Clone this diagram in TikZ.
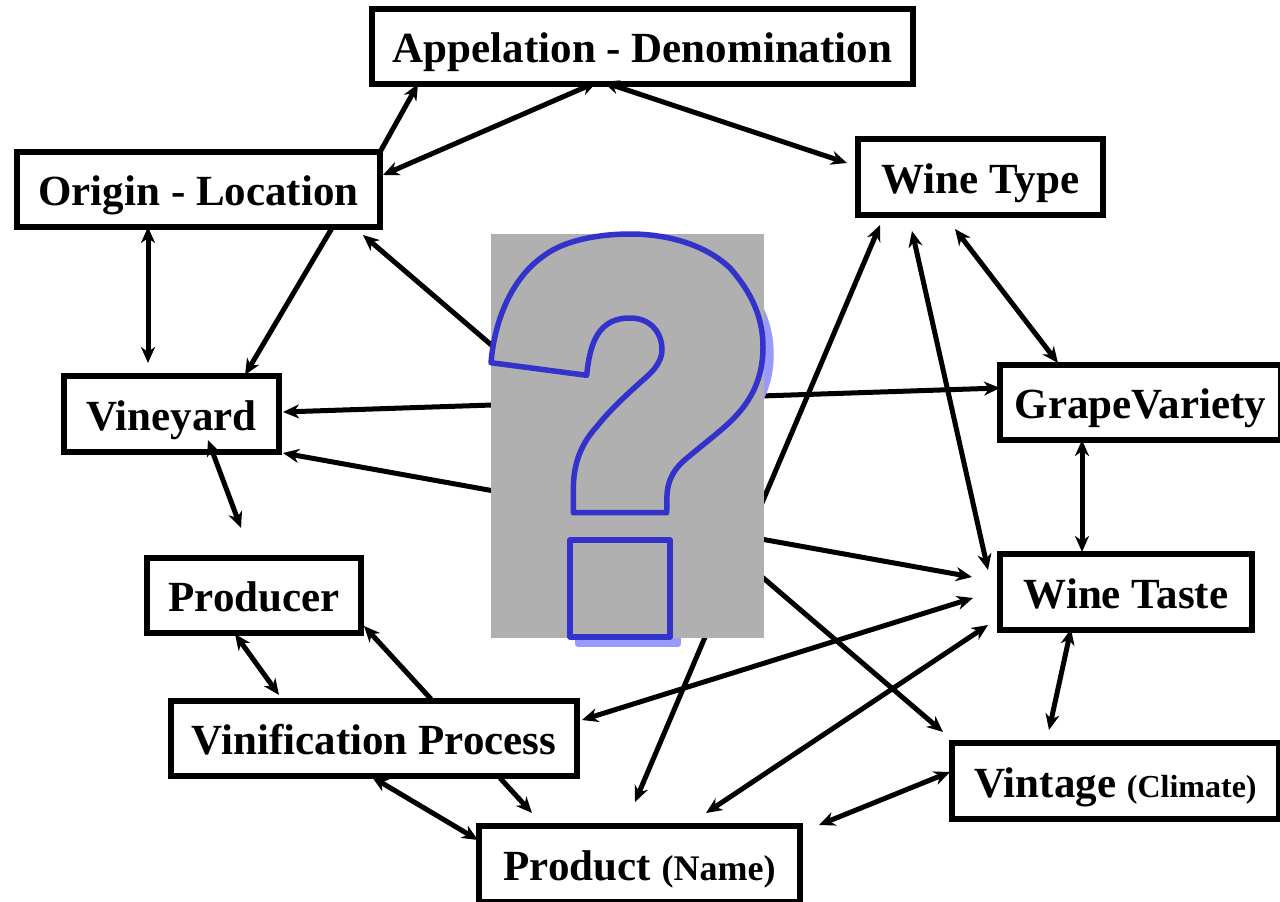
\documentclass[tikz,border=0pt]{standalone}
\usepackage{fontspec}
\setmainfont{Liberation Serif}
\usetikzlibrary{arrows.meta}
\definecolor{qblue}{HTML}{3333CC}
\definecolor{qshade}{HTML}{9999FF}
\definecolor{qgray}{HTML}{B0B0B0}
\newcommand{\qmark}{(491,362.7) -- (586.7,375.3) .. controls (590,340) and (600,318) .. (630,318)
  .. controls (650,318) and (662,332) .. (662,350) .. controls (662,362) and (652,372) .. (646.7,376.7)
  .. controls (625,396) and (610,410) .. (596.7,426.7) .. controls (580,445) and (573.3,465) .. (573.3,490)
  -- (573.3,512.7) -- (666.7,512.7) -- (667,495) .. controls (668,478) and (675,468) .. (687,458)
  .. controls (705,443) and (722,430) .. (732,420) .. controls (750,402) and (763,380) .. (763,347)
  .. controls (763,318) and (752,293) .. (730,268) .. controls (708,247) and (672,234) .. (630,234)
  .. controls (600,234) and (565,240) .. (545,255) .. controls (515,275) and (495,315) .. (491,362.7) -- cycle}
\begin{document}
\begin{tikzpicture}[x=1pt,y=-1pt,
    boxnode/.style={draw=black,line width=5.5pt,inner sep=0pt,outer sep=0pt,align=center,
      text height=36pt,text depth=4pt,font=\fontsize{43}{50}\selectfont\bfseries},
    link/.style={line width=5pt,{Stealth[length=16pt,width=14pt,inset=5pt]}-{Stealth[length=16pt,width=14pt,inset=5pt]}},
    linkto/.style={line width=5pt,-{Stealth[length=16pt,width=14pt,inset=5pt]}}]
  \useasboundingbox (0,0) rectangle (1280,902);
  \node [boxnode,minimum width=541pt,minimum height=75pt] (appel) at (642.5,46.5) {Appelation - Denomination};
  \node [boxnode,minimum width=363pt,minimum height=75pt] (origin) at (198.5,189.5) {Origin - Location};
  \node [boxnode,minimum width=245pt,minimum height=76pt] (winetype) at (980.5,177) {Wine Type};
  \node [boxnode,minimum width=215pt,minimum height=76pt] (vineyard) at (171.5,414) {Vineyard};
  \node [boxnode,minimum width=281pt,minimum height=75pt] (grape) at (1140.5,402.5) {GrapeVariety};
  \node [boxnode,minimum width=252pt,minimum height=76pt] (taste) at (1126,592) {Wine Taste};
  \node [boxnode,minimum width=214pt,minimum height=75pt] (producer) at (254,595.5) {Producer};
  \node [boxnode,minimum width=406pt,minimum height=75pt] (vinif) at (374,738.5) {Vinification Process};
  \node [boxnode,minimum width=327pt,minimum height=76pt] (vintage) at (1115.5,781) {Vintage {\fontsize{32}{38}\selectfont (Climate)}};
  \node [boxnode,minimum width=321pt,minimum height=76pt] (product) at (639.5,864) {Product {\fontsize{36}{42}\selectfont (Name)}};

  \draw [linkto] (origin.north east) -- ([shift={(-224.5,0)}]appel.south);
  \draw [link] ([shift={(3,-14.5)}]origin.east) -- ([shift={(-45.5,-2)}]appel.south);
  \draw [link] ([shift={(-39.5,-2)}]appel.south) -- ([shift={(-11,-14)}]winetype.west);
  \draw [link] ([shift={(-50.5,0)}]origin.south) -- ([shift={(-23.5,-13)}]vineyard.north);
  \draw [linkto] ([shift={(133.5,1)}]origin.south) -- ([shift={(73.5,-1)}]vineyard.north);
  \draw [link] ([shift={(164.5,8)}]origin.south) -- ([shift={(-172.5,-11)}]vintage.north);
  \draw [link] ([shift={(4,-2)}]vineyard.east) -- ([shift={(0,-14.5)}]grape.west);
  \draw [link] ([shift={(4,39)}]vineyard.east) -- ([shift={(-28,-15)}]taste.west);
  \draw [link] ([shift={(-100.5,10)}]winetype.south) -- ([shift={(-4.5,-24)}]product.north);
  \draw [link] ([shift={(-68.5,16)}]winetype.south) -- ([shift={(-12,-22)}]taste.west);
  \draw [link] ([shift={(-25.5,14)}]winetype.south) -- ([shift={(-82.5,-2)}]grape.north);
  \draw [link] ([shift={(-58.5,0)}]grape.south) -- ([shift={(-44,-2)}]taste.north);
  \draw [link] ([shift={(-55,-1)}]taste.south) -- ([shift={(-66.5,-13)}]vintage.north);
  \draw [link] ([shift={(-2,-9)}]vintage.west) -- ([shift={(19,-39)}]product.east);
  \draw [link] ([shift={(-12,33)}]taste.west) -- ([shift={(66.5,-13)}]product.north);
  \draw [link] ([shift={(-27,6)}]taste.west) -- ([shift={(5,-18.5)}]vinif.east);
  \draw [link] ([shift={(36.5,-12)}]vineyard.south) -- ([shift={(-13,-30)}]producer.north);
  \draw [link] ([shift={(-19,1)}]producer.south) -- ([shift={(-95,-6)}]vinif.north);
  \draw [linkto] ([shift={(57,-2)}]vinif.north) -- ([shift={(3,30.5)}]producer.east);
  \draw [link] ([shift={(-2,1)}]vinif.south) -- ([shift={(-1,-24)}]product.west);
  \draw [linkto] ([shift={(126,2)}]vinif.south) -- ([shift={(-107.5,-13)}]product.north);

  \begin{scope}[shift={(8,7)}]
    \draw [qshade,line width=5.5pt,line join=round,fill=qshade] \qmark;
    \draw [qshade,line width=5.5pt,line join=round,fill=qshade] (570,540) rectangle (670,637);
  \end{scope}
  \fill [qgray] (491,234) rectangle (764,638);
  \draw [qblue,line width=5.5pt,line join=round] \qmark;
  \draw [qblue,line width=5.5pt,line join=round] (570,540) rectangle (670,637);
\end{tikzpicture}
\end{document}
